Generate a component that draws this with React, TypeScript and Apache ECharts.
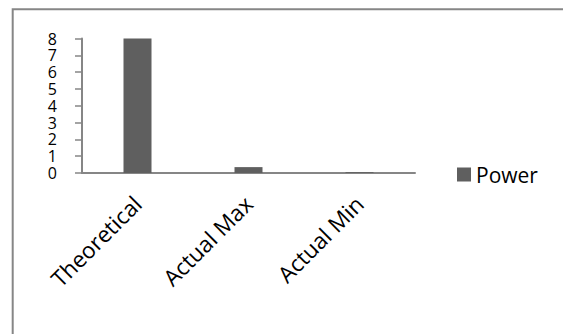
import React, { useEffect, useRef } from "react";
import * as echarts from "echarts";

const categories: string[] = ["Theoretical", "Actual Max", "Actual Min"];
const powerValues: number[] = [8, 0.35, 0.05];
const seriesName = "Power";

const FONT = "'Open Sans', 'DejaVu Sans', sans-serif";
const AXIS_GRAY = "#868686";
const BAR_GRAY = "#5f5f5f";

export default function App() {
  const ref = useRef<HTMLDivElement>(null);

  useEffect(() => {
    if (!ref.current) return;
    const chart = echarts.init(ref.current, null, { renderer: "svg" });
    chart.setOption({
      animation: false,
      backgroundColor: "#ffffff",
      graphic: [
        {
          type: "rect",
          shape: { x: 12.7, y: 9.3, width: 700, height: 500 },
          style: { fill: "none", stroke: AXIS_GRAY, lineWidth: 2 },
          silent: true,
          z: 0,
        },
      ],
      legend: {
        data: [seriesName],
        left: 452,
        top: 159,
        itemWidth: 14,
        itemHeight: 14,
        icon: "rect",
        textStyle: { fontFamily: FONT, fontSize: 21, color: "#000" },
        itemGap: 6,
      },
      grid: { left: 82, right: 148, top: 38.5, bottom: 161, containLabel: false },
      xAxis: {
        type: "category",
        data: categories,
        axisLine: { lineStyle: { color: AXIS_GRAY, width: 2 } },
        axisTick: { show: false },
        axisLabel: {
          rotate: 45,
          interval: 0,
          margin: 27,
          fontFamily: FONT,
          fontSize: 22.5,
          color: "#000",
        },
      },
      yAxis: {
        type: "value",
        min: 0,
        max: 8,
        interval: 1,
        splitLine: { show: false },
        axisLine: { show: true, lineStyle: { color: AXIS_GRAY, width: 2 } },
        axisTick: { show: true, length: 7, lineStyle: { color: AXIS_GRAY, width: 1.5 } },
        axisLabel: {
          margin: 25,
          fontFamily: FONT,
          fontSize: 16,
          lineHeight: 16,
          color: "#000",
          showMinLabel: true,
          showMaxLabel: true,
          hideOverlap: false,
        },
      },
      series: [
        {
          name: seriesName,
          type: "bar",
          data: powerValues,
          barWidth: 28,
          itemStyle: { color: BAR_GRAY },
        },
      ],
    });
    return () => chart.dispose();
  }, []);

  return (
    <div
      ref={ref}
      style={{ position: "fixed", left: 0, top: 0, width: 563, height: 334 }}
    />
  );
}
